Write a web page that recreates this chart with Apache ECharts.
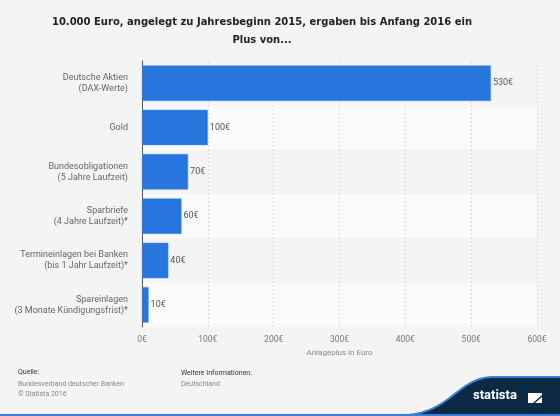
<!DOCTYPE html>
<html><head><meta charset="utf-8">
<script src="https://cdn.jsdelivr.net/npm/echarts@6/dist/echarts.min.js"></script>
<style>html,body{margin:0;padding:0;background:#f4f4f4}#c{width:560px;height:416px}</style>
</head><body><div id="c"></div>
<script>
const categories = [
  "Deutsche Aktien\n(DAX-Werte)",
  "Gold",
  "Bundesobligationen\n(5 Jahre Laufzeit)",
  "Sparbriefe\n(4 Jahre Laufzeit)*",
  "Termineinlagen bei Banken\n(bis 1 Jahr Laufzeit)*",
  "Spareinlagen\n(3 Monate Kündigungsfrist)*"
];
const values = [530, 100, 70, 60, 40, 10];
const titleText = "10.000 Euro, angelegt zu Jahresbeginn 2015, ergaben bis Anfang 2016 ein\nPlus von...";
const axisName = "Anlageplus in Euro";

function bez(p0, p1, p2, p3, n) {
  const pts = [];
  for (let i = 0; i <= n; i++) {
    const t = i / n, u = 1 - t;
    pts.push([
      u*u*u*p0[0] + 3*u*u*t*p1[0] + 3*u*t*t*p2[0] + t*t*t*p3[0],
      u*u*u*p0[1] + 3*u*u*t*p1[1] + 3*u*t*t*p2[1] + t*t*t*p3[1]
    ]);
  }
  return pts;
}
const wave = bez([405, 415], [450, 413], [458, 378], [492, 377], 30);
const waveFill = wave.concat([[560, 377], [560, 416], [405, 416]]);
const waveLine = wave.concat([[560, 377]]);

const chart = echarts.init(document.getElementById('c'), null, {renderer: 'canvas'});
chart.setOption({
  backgroundColor: '#f4f4f4',
  animation: false,
  grid: {left: 142, right: 23, top: 61, bottom: 89},
  xAxis: {
    type: 'value', min: 0, max: 600, interval: 100,
    name: axisName, nameLocation: 'middle', nameGap: 19,
    nameTextStyle: {fontFamily: 'Roboto', fontSize: 8, color: '#888'},
    axisLine: {show: false}, axisTick: {show: false},
    axisLabel: {formatter: v => v + '€', fontFamily: 'Roboto', fontSize: 8.5, color: '#777', margin: 8},
    splitLine: {show: true, lineStyle: {color: '#dcdcdc', type: [2, 2], width: 1}}
  },
  yAxis: {
    type: 'category', data: categories, inverse: true,
    axisLine: {show: true, lineStyle: {color: '#555', width: 1}},
    axisTick: {show: false},
    axisLabel: {fontFamily: 'Roboto', fontSize: 9, color: '#666', margin: 14, lineHeight: 11, align: 'right'},
    splitArea: {show: true, areaStyle: {color: ['#f4f4f4', '#fafafa']}},
    splitLine: {show: false}
  },
  series: [{
    type: 'bar', data: values, barCategoryGap: '20%',
    itemStyle: {color: '#2876dd', borderColor: '#4a8ce6', borderWidth: 0.5},
    label: {show: true, position: 'right', distance: 2, formatter: p => p.value + '€',
      fontFamily: 'Roboto', fontSize: 9, color: '#555'}
  }],
  graphic: [
    {type: 'text', x: 262, y: 13, style: {text: titleText, textAlign: 'center', fontFamily: 'DejaVu Sans', fontSize: 10, fontWeight: 'bold', fill: '#222', lineHeight: 18}},
    {type: 'text', x: 18, y: 369, style: {text: 'Quelle:', fontFamily: 'Roboto', fontSize: 7, fill: '#333'}},
    {type: 'text', x: 18, y: 379, style: {text: 'Bundesverband deutscher Banken\n© Statista 2016', fontFamily: 'Roboto', fontSize: 7, lineHeight: 10, fill: '#888'}},
    {type: 'text', x: 181, y: 370, style: {text: 'Weitere Informationen:', fontFamily: 'Roboto', fontSize: 7, fill: '#333'}},
    {type: 'text', x: 181, y: 381, style: {text: 'Deutschland', fontFamily: 'Roboto', fontSize: 7, fill: '#888'}},
    {type: 'polygon', shape: {points: waveFill}, style: {fill: '#0d2a45'}},
    {type: 'polyline', shape: {points: waveLine}, style: {fill: null, stroke: '#3a7fdc', lineWidth: 2}},
    {type: 'rect', shape: {x: 0, y: 414, width: 560, height: 2}, style: {fill: '#3a7fdc'}},
    {type: 'text', x: 473, y: 389, style: {text: 'statista', fontFamily: 'Roboto', fontWeight: 'bold', fontSize: 13, fill: '#ffffff'}},
    {type: 'polygon', shape: {points: [[528, 393], [542, 393], [542, 395], [533, 403], [528, 403]]}, style: {fill: '#ffffff'}},
    {type: 'polygon', shape: {points: [[542, 397], [542, 403], [535, 403]]}, style: {fill: '#ffffff'}}
  ]
});
</script></body></html>
